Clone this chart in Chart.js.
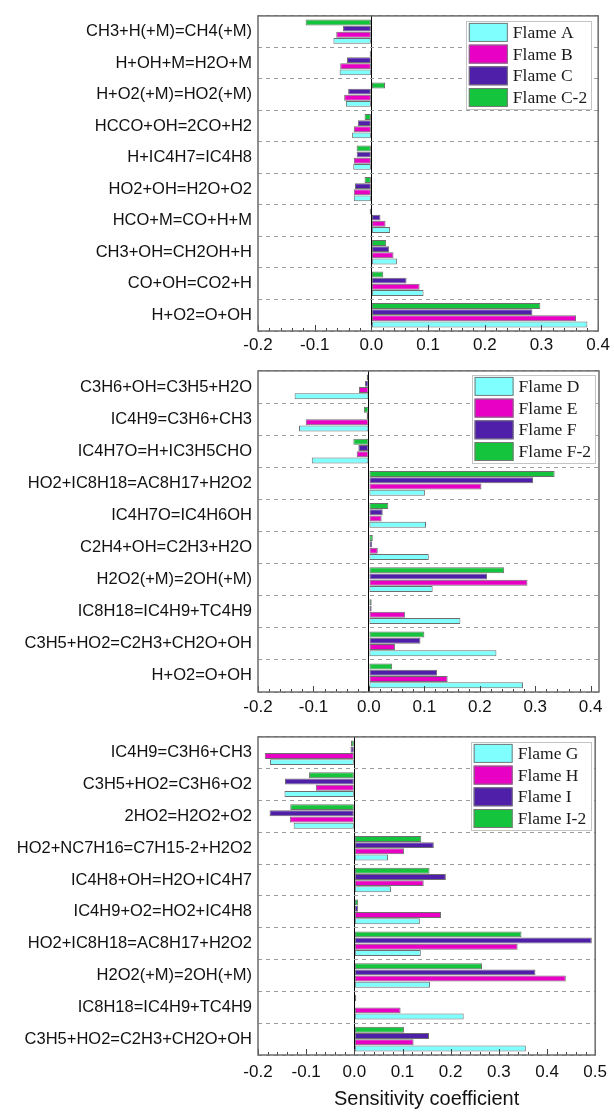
<!DOCTYPE html>
<html>
<head>
<meta charset="utf-8">
<script src="https://cdn.jsdelivr.net/npm/chart.js@4.4.0/dist/chart.umd.min.js"></script>
<style>
html,body{margin:0;padding:0;background:#fff;}
#wrap{position:relative;width:614px;height:1113px;overflow:hidden;background:#fff;}
canvas{position:absolute;left:0;}
</style>
</head>
<body>
<div id="wrap">
<canvas id="c1"></canvas>
<canvas id="c2"></canvas>
<canvas id="c3"></canvas>
</div>
<script>
// ---------- Panel 1 ----------
const reactions1 = ['CH3+H(+M)=CH4(+M)','H+OH+M=H2O+M','H+O2(+M)=HO2(+M)','HCCO+OH=2CO+H2','H+IC4H7=IC4H8','HO2+OH=H2O+O2','HCO+M=CO+H+M','CH3+OH=CH2OH+H','CO+OH=CO2+H','H+O2=O+OH'];
const flameA  = [-0.067,-0.056,-0.045,-0.034,-0.032,-0.031,0.033,0.045,0.092,0.381];
const flameB  = [-0.062,-0.055,-0.048,-0.031,-0.031,-0.031,0.025,0.039,0.085,0.361];
const flameC  = [-0.050,-0.043,-0.041,-0.024,-0.026,-0.029,0.016,0.031,0.062,0.284];
const flameC2 = [-0.116,-0.003,0.024,-0.012,-0.026,-0.012,-0.003,0.026,0.021,0.298];
const ticks1 = [-0.2,-0.1,0.0,0.1,0.2,0.3,0.4];

// ---------- Panel 2 ----------
const reactions2 = ['C3H6+OH=C3H5+H2O','IC4H9=C3H6+CH3','IC4H7O=H+IC3H5CHO','HO2+IC8H18=AC8H17+H2O2','IC4H7O=IC4H6OH','C2H4+OH=C2H3+H2O','H2O2(+M)=2OH(+M)','IC8H18=IC4H9+TC4H9','C3H5+HO2=C2H3+CH2O+OH','H+O2=O+OH'];
const flameD  = [-0.134,-0.126,-0.103,0.101,0.103,0.108,0.115,0.165,0.230,0.278];
const flameE  = [-0.018,-0.114,-0.022,0.203,0.023,0.016,0.286,0.065,0.047,0.142];
const flameF  = [-0.007,-0.004,-0.019,0.296,0.025,0.006,0.213,0.005,0.093,0.123];
const flameF2 = [-0.004,-0.009,-0.028,0.335,0.035,0.007,0.244,0.005,0.100,0.042];
const ticks2 = [-0.2,-0.1,0.0,0.1,0.2,0.3,0.4];

// ---------- Panel 3 ----------
const reactions3 = ['IC4H9=C3H6+CH3','C3H5+HO2=C3H6+O2','2HO2=H2O2+O2','HO2+NC7H16=C7H15-2+H2O2','IC4H8+OH=H2O+IC4H7','IC4H9+O2=HO2+IC4H8','HO2+IC8H18=AC8H17+H2O2','H2O2(+M)=2OH(+M)','IC8H18=IC4H9+TC4H9','C3H5+HO2=C2H3+CH2O+OH'];
const flameG  = [-0.175,-0.145,-0.126,0.070,0.076,0.136,0.138,0.157,0.227,0.356];
const flameH  = [-0.186,-0.080,-0.134,0.103,0.144,0.180,0.339,0.439,0.096,0.123];
const flameI  = [-0.008,-0.144,-0.176,0.165,0.190,0.008,0.493,0.376,0.002,0.155];
const flameI2 = [-0.007,-0.094,-0.133,0.139,0.156,0.008,0.347,0.265,0.004,0.103];
const ticks3 = [-0.2,-0.1,0.0,0.1,0.2,0.3,0.4,0.5];

const axisTitle = 'Sensitivity coefficient';
const seriesColors = ['#80FFFF','#E800C4','#4F1FAA','#14C43C'];

const SANS = '"Liberation Sans", Arial, Helvetica, sans-serif';
const SERIF = '"Liberation Serif", "Times New Roman", serif';

const framePlugin = {
  id: 'frame',
  afterDraw(chart, args, o) {
    const {ctx, chartArea: a, scales: {x}} = chart;
    const t = o.ticks || [];
    ctx.save();
    ctx.strokeStyle = '#444';
    ctx.lineWidth = 1;
    ctx.beginPath();
    for (let i = 0; i < t.length; i++) {
      const px = Math.round(x.getPixelForValue(t[i])) + 0.5;
      ctx.moveTo(px, a.bottom); ctx.lineTo(px, a.bottom - 6);
      if (i < t.length - 1) {
        for (let k = 1; k < 5; k++) {
          const v = t[i] + (t[i+1] - t[i]) * k / 5;
          const mx = Math.round(x.getPixelForValue(v)) + 0.5;
          ctx.moveTo(mx, a.bottom); ctx.lineTo(mx, a.bottom - 3);
        }
      }
    }
    ctx.stroke();
    ctx.strokeStyle = '#6b6b6b';
    ctx.lineWidth = 1.5;
    ctx.strokeRect(a.left, a.top, a.right - a.left, a.bottom - a.top);
    ctx.restore();
  }
};

const legendPlugin = {
  id: 'boxLegend',
  afterDraw(chart, args, o) {
    const {ctx, chartArea: a} = chart;
    const ds = chart.data.datasets.slice().reverse();
    ctx.save();
    ctx.font = '17.5px ' + SERIF;
    const tw = Math.max(...ds.map(d => ctx.measureText(d.label).width));
    const rowH = 21.7, sw = 39, sh = 19;
    const w = 3 + sw + 5 + tw + 4;
    const h = 2 + (ds.length - 1) * rowH + sh + 2;
    const x0 = a.right - o.right - w, y0 = a.top + o.top;
    ctx.fillStyle = '#fff';
    ctx.fillRect(x0, y0, w, h);
    ctx.strokeStyle = '#c4c4c4';
    ctx.lineWidth = 1;
    ctx.strokeRect(Math.round(x0) + 0.5, Math.round(y0) + 0.5, Math.round(w), Math.round(h));
    ds.forEach((d, i) => {
      const ry = y0 + 2 + i * rowH;
      ctx.fillStyle = d.backgroundColor;
      ctx.fillRect(x0 + 3, ry, sw, sh);
      ctx.strokeStyle = '#777';
      ctx.strokeRect(x0 + 3.5, ry + 0.5, sw - 1, sh - 1);
      ctx.fillStyle = '#1a1a1a';
      ctx.textBaseline = 'middle';
      ctx.textAlign = 'left';
      ctx.fillText(d.label, x0 + 3 + sw + 5, ry + sh / 2 + 1);
    });
    ctx.restore();
  }
};

function makeChart(id, cats, series, names, ticks, xmax, opt) {
  const canvas = document.getElementById(id);
  canvas.width = 614; canvas.height = opt.h;
  canvas.style.width = '614px'; canvas.style.height = opt.h + 'px';
  canvas.style.top = opt.top + 'px';
  const datasets = series.map((d, i) => ({
    label: names[i], data: d,
    backgroundColor: seriesColors[i],
    borderColor: '#6e6e6e', borderWidth: 1, borderSkipped: false,
    barPercentage: 0.96, categoryPercentage: 0.78
  })).reverse();
  return new Chart(canvas, {
    type: 'bar',
    data: { labels: cats, datasets },
    plugins: [framePlugin, legendPlugin],
    options: {
      indexAxis: 'y', responsive: false, animation: false, devicePixelRatio: 1,
      layout: { padding: { left: 0, right: 15, top: opt.padTop, bottom: 0 } },
      plugins: {
        legend: { display: false }, tooltip: { enabled: false },
        frame: { ticks },
        boxLegend: { right: opt.legRight, top: opt.legTop }
      },
      scales: {
        x: {
          type: 'linear', min: -0.2, max: xmax,
          afterBuildTicks(s) { s.ticks = ticks.map(v => ({ value: v })); },
          afterFit(s) { s.height = opt.xh; },
          ticks: {
            padding: opt.tickPad, color: '#111', autoSkip: false, maxRotation: 0, includeBounds: false,
            font: { family: SANS, size: 17 },
            callback: v => Number(v).toFixed(1)
          },
          grid: {
            drawTicks: false, lineWidth: 1,
            color: c => (c.tick && Math.abs(c.tick.value) < 1e-9) ? '#000' : 'rgba(0,0,0,0)'
          },
          border: { display: false },
          title: opt.title ? {
            display: true, text: opt.title, color: '#111',
            font: { family: SANS, size: 20 }, padding: { top: 0, bottom: 2 }
          } : { display: false }
        },
        y: {
          type: 'category',
          afterFit(s) { s.width = 258; },
          ticks: { padding: 6, color: '#111', autoSkip: false, font: { family: SANS, size: 16.5 } },
          grid: { drawTicks: false, color: '#9c9c9c', lineWidth: 1, offset: true },
          border: { display: false, dash: [4, 4] }
        }
      }
    }
  });
}

makeChart('c1', reactions1, [flameA, flameB, flameC, flameC2],
  ['Flame A','Flame B','Flame C','Flame C-2'], ticks1, 0.4,
  { top: 0, h: 360, padTop: 2, xh: 29, tickPad: 4, legRight: 7, legTop: 5 });
makeChart('c2', reactions2, [flameD, flameE, flameF, flameF2],
  ['Flame D','Flame E','Flame F','Flame F-2'], ticks2, 0.415,
  { top: 355, h: 366, padTop: 8, xh: 29, tickPad: 5, legRight: 4, legTop: 4 });
makeChart('c3', reactions3, [flameG, flameH, flameI, flameI2],
  ['Flame G','Flame H','Flame I','Flame I-2'], ticks3, 0.5,
  { top: 721, h: 392, padTop: 6, xh: 58, tickPad: 7, legRight: 5, legTop: 5, title: axisTitle });
</script>
</body>
</html>
